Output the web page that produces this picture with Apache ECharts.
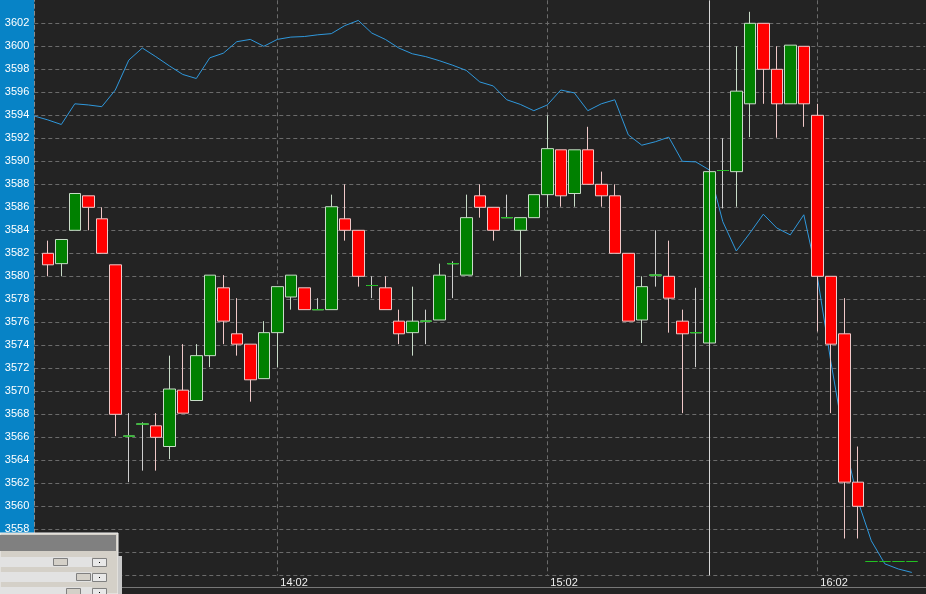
<!DOCTYPE html>
<html><head><meta charset="utf-8">
<script src="https://cdn.jsdelivr.net/npm/echarts@6/dist/echarts.min.js"></script>
<style>html,body{margin:0;padding:0;background:#232323;}#c{width:926px;height:594px;}</style>
</head><body><div id="c"></div>
<script>
// categories (3-minute bars); first and last are edge slots
const times = ['13:08','13:11','13:14','13:17','13:20','13:23','13:26','13:29','13:32','13:35','13:38','13:41','13:44','13:47','13:50','13:53','13:56','13:59',
'14:02','14:05','14:08','14:11','14:14','14:17','14:20','14:23','14:26','14:29','14:32','14:35','14:38','14:41','14:44','14:47','14:50','14:53','14:56','14:59',
'15:02','15:05','15:08','15:11','15:14','15:17','15:20','15:23','15:26','15:29','15:32','15:35','15:38','15:41','15:44','15:47','15:50','15:53','15:56','15:59',
'16:02','16:05','16:08','16:11','16:14','16:17','16:20','16:23','16:26'];
const xTickLabels = ['14:02','15:02','16:02'];
const cursorTime = '15:38';

const opens  = [null,3582,3581.1,3584,3587,3585,3581,3566.1,3567.15,3567,3565.2,3570.1,3569.2,3573.1,3579,3575,3574.1,3571.1,3575.1,3578.2,3579,3577.1,3577.1,3585,3584,3579.2,3579,3576.1,3575.1,3576.1,3576.2,3581.1,3580.1,3587,3586,3585.1,3584,3585.1,3587.1,3591,3587.2,3591,3588,3587,3582,3576.2,3580.1,3580,3576.1,3575.1,3574.2,3589.2,3589.1,3595,3602,3598,3595,3600,3594,3580,3575,3562.1,3555.2,3555.2,3555.2,3555.2,null];
const closes = [null,3581,3583.2,3587.2,3586,3582,3568,3566.1,3567.15,3566,3570.2,3568.1,3573.1,3580.1,3576.1,3574.1,3571,3575.1,3579.1,3580.1,3577.1,3577.1,3586.05,3584,3580,3579.2,3577.1,3575,3576.1,3576.1,3580.1,3581.1,3585.1,3586,3584,3585.1,3585.1,3587.1,3591.1,3587,3591,3588,3587,3582,3576.1,3579.1,3580.1,3578.1,3575,3575.1,3589.1,3589.2,3596.1,3602,3598,3595,3600.1,3595,3580,3574.1,3562.1,3560,3555.2,3555.2,3555.2,3555.2,null];
const lows   = [null,3580,3580,3584,3584,3582,3566.1,3562.1,3563.1,3563.1,3564.1,3568.1,3569.2,3572.1,3574.1,3573.1,3569.1,3571.1,3572.1,3577.1,3577.1,3577.1,3577.1,3583.1,3579.1,3578.1,3577.1,3574.1,3573.1,3574.1,3576.2,3578.1,3580.1,3585.1,3583.1,3585.1,3580,3585.1,3586.05,3586.05,3586.05,3588,3586.05,3582,3576.1,3574.2,3579.1,3575.1,3568.1,3572.1,3574.2,3585.9,3586.05,3592.1,3595,3592.05,3595,3593,3575.2,3568.1,3557.2,3557.2,3555.2,3555.2,3555.2,3555.2,null];
const highs  = [null,3583.1,3583.2,3587.2,3587,3586,3581,3568.1,3567.3,3568.1,3573.1,3574.1,3574.1,3580.1,3580.1,3578.1,3574.1,3576.1,3579.1,3580.1,3579,3578.1,3587.1,3588,3584,3580,3580,3577.1,3579.1,3577.1,3581.1,3581.3,3587.1,3588,3586,3587.1,3585.1,3587.1,3594,3591,3591,3593,3589.1,3588,3582,3580,3584,3583.1,3577.1,3579,3589.1,3592,3600,3603,3602,3600,3600.1,3600,3595,3580,3578.1,3565.2,3555.2,3555.2,3555.2,3555.2,null];
// overlay line (blue)
const lineValues = [3593.94,3593.6,3593.2,3595.0,3594.9,3594.75,3596.2,3598.8,3599.85,3599.1,3598.3,3597.55,3597.2,3599.0,3599.4,3600.4,3600.6,3600.0,3600.6,3600.8,3600.85,3601.0,3601.1,3601.8,3602.25,3601.15,3600.6,3599.85,3599.35,3599.1,3598.75,3598.35,3597.9,3596.9,3596.55,3595.35,3594.95,3594.4,3594.9,3596.2,3595.95,3594.4,3595.0,3595.35,3592.3,3591.4,3591.7,3592.1,3590.0,3589.95,3589.25,3584.75,3582.2,3583.75,3585.4,3584.2,3583.6,3585.35,3580.0,3572.6,3565.8,3560.5,3557.0,3555.0,3554.55,3554.25,null];

const isDoji = i => opens[i]!=null && opens[i]===closes[i];
const candleData = times.map((t,i)=> (opens[i]==null || (isDoji(i) && highs[i]===lows[i])) ? '-' : [opens[i],closes[i],lows[i],highs[i]]);
const dojiData = times.map((t,i)=> isDoji(i) ? [opens[i],closes[i],opens[i],opens[i]] : '-');

const gridLine = {color:'#6b6b6b', type:[4,3], width:1};
const font = 'Liberation Sans, Arial, sans-serif';

const W = (el)=>Object.assign({z:100, silent:true}, el);

const chart = echarts.init(document.getElementById('c'), null, {renderer:'canvas'});
chart.setOption({
  animation:false,
  backgroundColor:'#232323',
  grid:{left:34.3, right:0.7, top:0.3, bottom:18.7, containLabel:false},
  xAxis:{
    type:'category', data:times, boundaryGap:false,
    axisLine:{show:false}, axisTick:{show:false},
    axisLabel:{color:'#f0f0f0', fontSize:11, fontFamily:font, align:'left', margin:2, padding:[0,0,0,3],
      interval:(i,v)=>xTickLabels.includes(v)},
    splitLine:{show:true, interval:(i,v)=>xTickLabels.includes(v), lineStyle:gridLine}
  },
  yAxis:{
    type:'value', min:3554, max:3604, interval:2, scale:true,
    axisLine:{show:true, lineStyle:{color:'#8a8a8a', type:[4,3]}}, axisTick:{show:false},
    axisLabel:{color:'#ffffff', fontSize:11, fontFamily:font, margin:5, padding:[0,0,8,0], showMaxLabel:false, showMinLabel:false,
      formatter:v=>String(v)},
    splitLine:{show:true, lineStyle:gridLine, showMaxLine:false}
  },
  series:[
    {type:'line', data:lineValues, showSymbol:false, symbol:'none',
      lineStyle:{color:'#2f98dc', width:1}, z:1,
      markLine:{silent:true, symbol:['none','none'], label:{show:false},
        lineStyle:{color:'#d8d8d8', type:'solid', width:1}, data:[{xAxis:cursorTime}]}},
    {type:'candlestick', data:candleData, barWidth:12, z:3,
      itemStyle:{color:'#008000', color0:'#ff0000', borderColor:'#c8dcc8', borderColor0:'#f0c8c8', borderColorDoji:'#cfcfcf', borderWidth:1}},
    {type:'candlestick', data:dojiData, barWidth:12, z:4,
      itemStyle:{color:'#00b000', color0:'#00b000', borderColor:'#22c022', borderColor0:'#22c022', borderColorDoji:'#22c022', borderWidth:1}}
  ],
  graphic:[
    {type:'rect', z:-1, silent:true, shape:{x:0,y:0,width:34.3,height:594}, style:{fill:'#0783c6'}},
    {type:'line', z:1, silent:true, shape:{x1:118,y1:587.5,x2:926,y2:587.5}, style:{stroke:'#777777', lineWidth:1}},
    W({type:'rect', shape:{x:0,y:533,width:118,height:61}, style:{fill:'#d4d0c8', stroke:'#f0f0f0', lineWidth:1}}),
    W({type:'rect', shape:{x:0,y:535,width:116,height:16}, style:{fill:'#808080'}}),
    W({type:'rect', shape:{x:0,y:557,width:92,height:10}, style:{fill:'#e2e2e2'}}),
    W({type:'rect', shape:{x:0,y:572,width:92,height:10}, style:{fill:'#e2e2e2'}}),
    W({type:'rect', shape:{x:0,y:587,width:92,height:7}, style:{fill:'#e2e2e2'}}),
    W({type:'rect', shape:{x:53.5,y:558.5,width:14,height:7}, style:{fill:'#d4d0c8', stroke:'#808080', lineWidth:1}}),
    W({type:'rect', shape:{x:76.5,y:573.5,width:14,height:7}, style:{fill:'#d4d0c8', stroke:'#808080', lineWidth:1}}),
    W({type:'rect', shape:{x:66.5,y:588.5,width:14,height:7}, style:{fill:'#d4d0c8', stroke:'#808080', lineWidth:1}}),
    W({type:'rect', shape:{x:92.5,y:558.5,width:14,height:8}, style:{fill:'#e8e8e8', stroke:'#808080', lineWidth:1}}),
    W({type:'rect', shape:{x:92.5,y:573.5,width:14,height:8}, style:{fill:'#e8e8e8', stroke:'#808080', lineWidth:1}}),
    W({type:'rect', shape:{x:92.5,y:588.5,width:14,height:8}, style:{fill:'#e8e8e8', stroke:'#808080', lineWidth:1}}),
    W({type:'rect', shape:{x:99,y:562,width:1,height:1}, style:{fill:'#000'}}),
    W({type:'rect', shape:{x:99,y:577,width:1,height:1}, style:{fill:'#000'}}),
    W({type:'rect', shape:{x:99,y:592,width:1,height:1}, style:{fill:'#000'}}),
    W({type:'rect', shape:{x:118,y:556,width:4,height:38}, style:{fill:'#c8c8c8'}})
  ]
});
</script></body></html>
